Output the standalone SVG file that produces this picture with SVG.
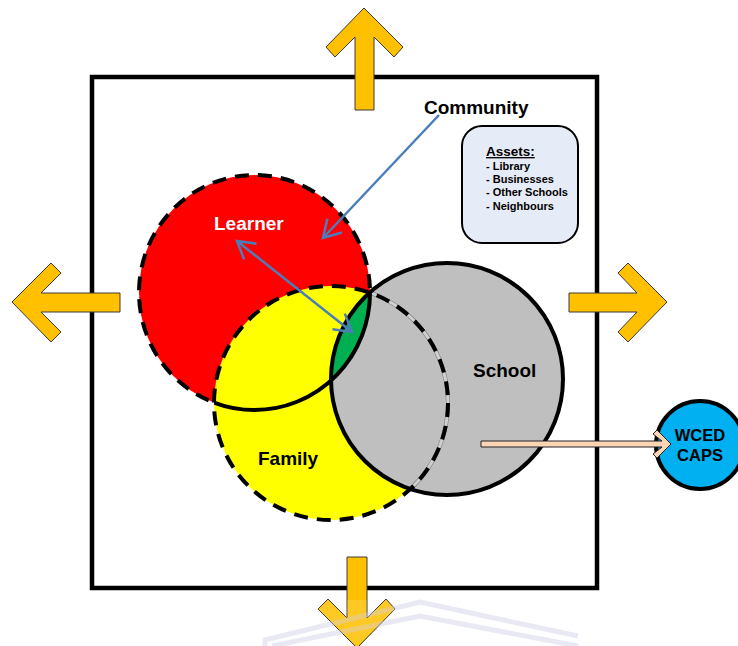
<svg xmlns="http://www.w3.org/2000/svg" width="738" height="646" viewBox="0 0 738 646">
<style>
.lbl{font-family:"Liberation Sans",Arial,sans-serif;font-weight:700;fill:#000}
.big{font-size:19px}
.small{font-size:11px}
.block{fill:#ffc000;stroke:#3a3a3a;stroke-width:1}
.dash{fill:none;stroke:#000;stroke-width:4;stroke-dasharray:14 9}
.solid{fill:none;stroke:#000;stroke-width:4}
.blue{fill:none;stroke:#4a7ebb;stroke-width:2.5}
.wm{fill:none;stroke:#c9c9e0;stroke-width:5;stroke-opacity:.4}
</style>
<defs>
<clipPath id="cRed"><ellipse cx="254.5" cy="292.5" rx="115.5" ry="117.5"/></clipPath>
<clipPath id="cYel"><circle cx="331" cy="403" r="117"/></clipPath>
<clipPath id="cGry"><circle cx="447" cy="379" r="116"/></clipPath>
<marker id="ah" markerWidth="24" markerHeight="24" refX="19" refY="11" orient="auto-start-reverse" markerUnits="userSpaceOnUse"><path d="M2 1L19 11L2 21" fill="none" stroke="#4a7ebb" stroke-width="2.5"/></marker>
</defs>
<g id="frame"><rect x="92" y="77" width="505" height="511" fill="#fff" stroke="#000" stroke-width="4.5"/></g>
<g id="learner">
<ellipse cx="254.5" cy="292.5" rx="115.5" ry="117.5" fill="#f00"/>
<ellipse cx="254.5" cy="292.5" rx="115.5" ry="117.5" class="dash"/>
</g>
<g id="family">
<circle cx="331" cy="403" r="117" fill="#ff0"/>
<circle cx="331" cy="403" r="117" class="dash"/>
</g>
<g id="school">
<circle cx="447" cy="379" r="116" fill="#bfbfbf"/>
<g clip-path="url(#cGry)">
<circle cx="331" cy="403" r="117" fill="none" stroke="#777" stroke-width="4"/>
<circle cx="331" cy="403" r="117" fill="none" stroke="#d0d0d0" stroke-width="3"/>
<circle cx="331" cy="403" r="117" class="dash"/>
</g>
<g clip-path="url(#cYel)"><g clip-path="url(#cRed)"><circle cx="447" cy="379" r="116" fill="#00b050"/></g></g>
<circle cx="447" cy="379" r="116" class="solid"/>
<g clip-path="url(#cYel)"><ellipse cx="254.5" cy="292.5" rx="115.5" ry="117.5" class="solid"/></g>
</g>
<g id="wced">
<circle cx="700" cy="445" r="44" fill="#00b0f0" stroke="#000" stroke-width="4"/>
<text class="lbl" x="700" y="441" text-anchor="middle" font-size="16.5">WCED</text>
<text class="lbl" x="700" y="461" text-anchor="middle" font-size="16.5">CAPS</text>
</g>
<g id="connectors">
<path d="M439 115L323 238" class="blue" marker-end="url(#ah)"/>
<path d="M237 241L352 332" class="blue" marker-start="url(#ah)" marker-end="url(#ah)"/>
<polygon class="block" style="fill:#fcd5b5;stroke:#222" points="481,441 662,441 653,434 657,430 671,444 657,458 653,454 662,447 481,447"/>
</g>
<g id="arrow-up"><polygon class="block" points="364,8 403,47 394,57 374,37 374,110 355,110 355,37 335,57 326,47"/></g>
<g id="arrow-left"><polygon class="block" points="12,302 51,263 61,273 41,293 120,293 120,312 41,312 61,332 51,342"/></g>
<g id="arrow-right"><polygon class="block" points="667,302 628,263 618,273 637,293 569,293 569,312 637,312 618,332 628,342"/></g>
<g id="arrow-down"><polygon class="block" points="347,557 367,557 367,618 386,599 395,609 357,648 318,609 328,599 347,618"/></g>
<path d="M265 646L265 640L420 602L578 636" class="wm"/>
<path d="M272 646L420 616L578 646" class="wm"/>
<path d="M347 600L367 600L367 618L386 600L395 609L357 646L318 609L328 600L347 618Z" fill="#fff" fill-opacity=".14"/>
<g id="assets">
<rect x="462" y="126" width="116" height="117" rx="20" fill="#e6ecf7" stroke="#000" stroke-width="2"/>
<text class="lbl" x="486" y="156" font-size="13.5" text-decoration="underline">Assets:</text>
<text class="lbl small" x="486" y="170">- Library</text>
<text class="lbl small" x="486" y="183">- Businesses</text>
<text class="lbl small" x="486" y="196">- Other Schools</text>
<text class="lbl small" x="486" y="210">- Neighbours</text>
</g>
<text class="lbl big" x="424" y="114">Community</text>
<text class="lbl big" x="214" y="230" style="fill:#fff">Learner</text>
<text class="lbl big" x="258" y="465">Family</text>
<text class="lbl big" x="473" y="377">School</text>
</svg>
